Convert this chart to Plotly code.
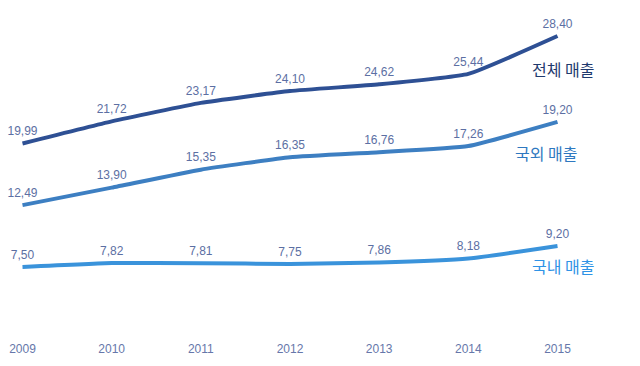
import plotly.graph_objects as go

years = [2009, 2010, 2011, 2012, 2013, 2014, 2015]
total_sales = [19.99, 21.72, 23.17, 24.10, 24.62, 25.44, 28.40]
overseas_sales = [12.49, 13.90, 15.35, 16.35, 16.76, 17.26, 19.20]
domestic_sales = [7.50, 7.82, 7.81, 7.75, 7.86, 8.18, 9.20]
tick_labels = [str(y) for y in years]
series_names = ["전체 매출", "국외 매출", "국내 매출"]

def fmt(v):
    return f"{v:.2f}".replace(".", ",")

label_color = "#5C6FA3"
label_font = dict(family="Liberation Sans, Arial, sans-serif", size=12, color=label_color)

W, H = 640, 366
B = 26
PH = H - B

fig = go.Figure()

def add_line(vals, color, name, yaxis="y"):
    fig.add_trace(go.Scatter(
        x=years, y=vals, yaxis=yaxis, mode="lines+markers+text",
        text=[fmt(v) for v in vals], textposition="top center",
        textfont=label_font,
        marker=dict(size=7, color="rgba(0,0,0,0)"),
        line=dict(color=color, width=4, shape="spline", smoothing=0.4),
        name=name, showlegend=False, hoverinfo="skip"))

add_line(total_sales, "#2E5094", series_names[0], "y2")
add_line(overseas_sales, "#3D7FC2", series_names[1])
add_line(domestic_sales, "#3A93DB", series_names[2])

px_per_year = (557.5 - 22.5) / (years[-1] - years[0])
x0 = years[0] - 22.5 / px_per_year
x1 = years[0] + (W - 22.5) / px_per_year

# y axis (overseas & domestic): zero at 360px, 12.4 px per unit
y_lo = (360 - PH) / 12.4
y_hi = 360 / 12.4
# y2 axis (total): zero at 399px, 12.78 px per unit
y2_lo = (399 - PH) / 12.78
y2_hi = 399 / 12.78

fig.update_layout(
    width=W, height=H,
    margin=dict(l=0, r=0, t=0, b=B),
    paper_bgcolor="white", plot_bgcolor="white",
    hovermode=False,
    xaxis=dict(range=[x0, x1], tickvals=years, ticktext=tick_labels,
               showgrid=False, zeroline=False, showline=False, ticks="",
               tickfont=dict(family="Liberation Sans, Arial, sans-serif", size=12, color="#6677AA")),
    yaxis=dict(range=[y_lo, y_hi], visible=False, showgrid=False, zeroline=False),
    yaxis2=dict(range=[y2_lo, y2_hi], visible=False, overlaying="y", showgrid=False, zeroline=False),
)

ann_font = "Noto Sans CJK KR, sans-serif"
for name, cx, cy, col in [(series_names[0], 563, 69, "#1F3A6E"),
                          (series_names[1], 546, 153, "#2E78C0"),
                          (series_names[2], 563, 266, "#2E93E6")]:
    fig.add_annotation(text=name, xref="paper", yref="paper",
                       x=cx / W, y=1 - cy / PH, xanchor="center", yanchor="middle",
                       showarrow=False, font=dict(family=ann_font, size=16, color=col))

fig.write_html("out.html", config={"displayModeBar": False},
               post_script="document.body.style.margin='0';document.body.style.overflow='hidden';")
